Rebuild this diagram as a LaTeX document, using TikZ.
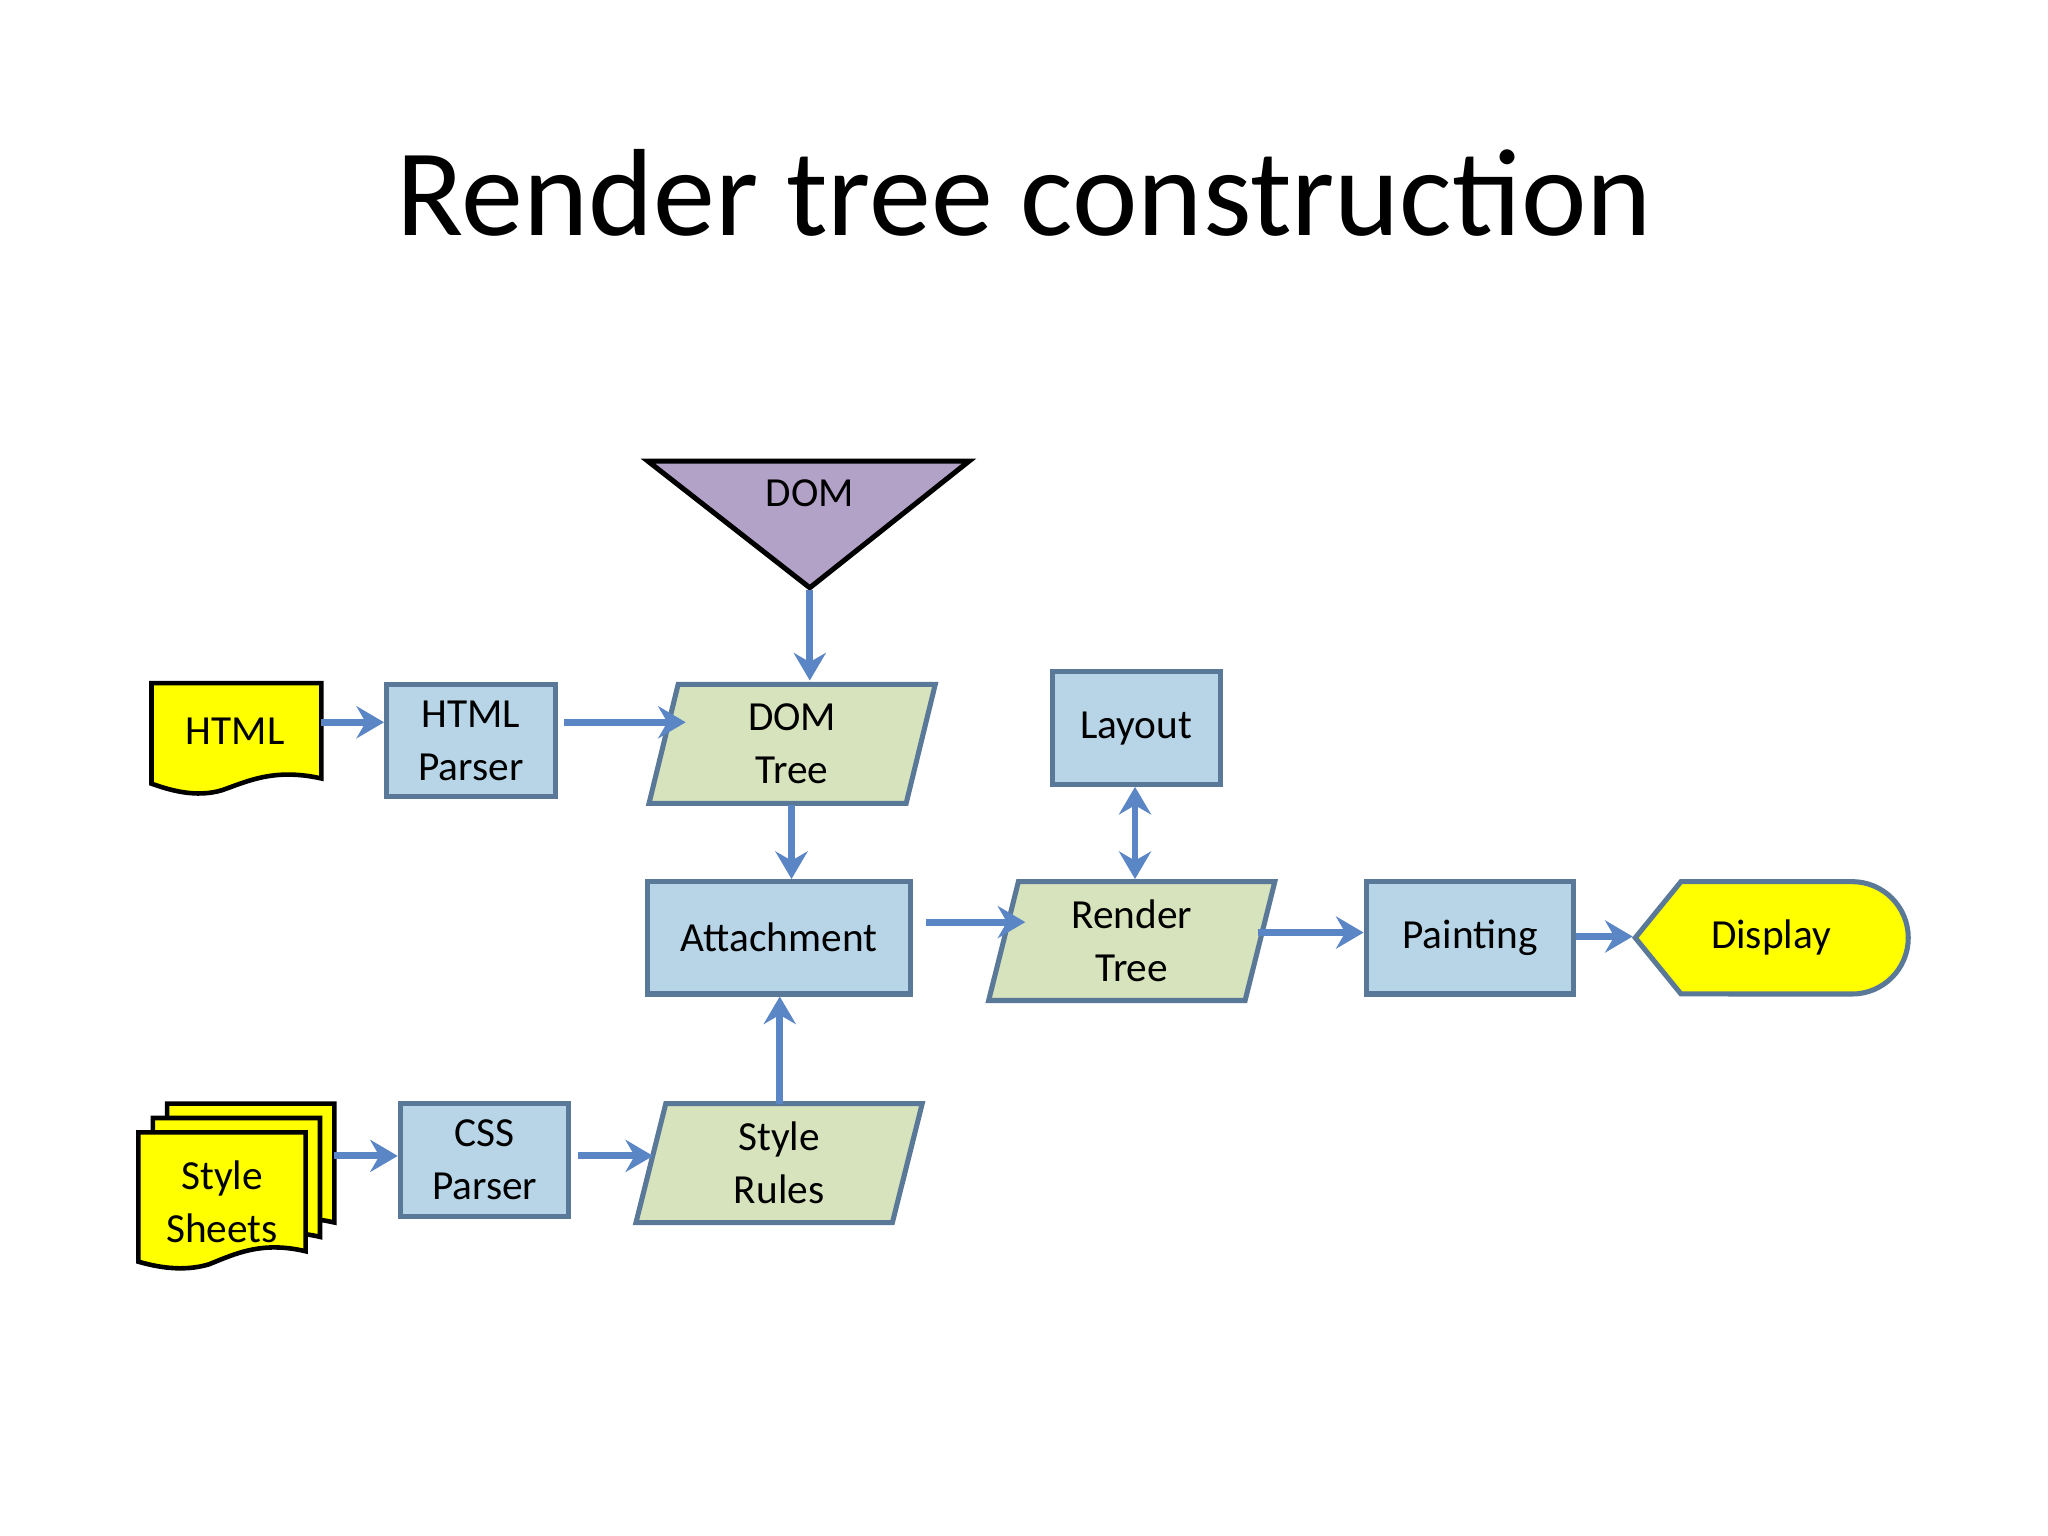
\documentclass[tikz,border=0pt]{standalone}
\usepackage{fontspec}
\setmainfont{Carlito}
\usetikzlibrary{shapes.geometric,arrows.meta}
\definecolor{boxblue}{HTML}{B7D5E7}
\definecolor{boxline}{HTML}{5A7898}
\definecolor{green}{HTML}{D6E3BC}
\definecolor{arr}{HTML}{5B86C5}
\definecolor{dompurple}{HTML}{B3A2C7}
\definecolor{yel}{HTML}{FFFF00}
\begin{document}
\begin{tikzpicture}[x=0.01cm,y=-0.01cm,
  box/.style={draw=boxline,line width=1.1pt,fill=boxblue,minimum width=1.29cm,minimum height=0.86cm,align=center,font=\fontsize{9pt}{11.5pt}\selectfont,inner sep=0pt},
  para/.style={trapezium,trapezium left angle=70,trapezium right angle=110,trapezium stretches body,draw=boxline,line width=1.1pt,fill=green,minimum width=2.19cm,minimum height=0.91cm,align=center,font=\fontsize{9pt}{11.5pt}\selectfont,inner sep=0pt},
  lbl/.style={align=center,font=\fontsize{9pt}{11.5pt}\selectfont,inner sep=0pt},
  doc/.style={draw=black,line width=1pt,fill=yel},
  a/.style={draw=arr,line width=1.5pt,-{Stealth[length=6pt,width=7pt,inset=2pt]}},
  ab/.style={draw=arr,line width=1.5pt,{Stealth[length=6pt,width=7pt,inset=2pt]}-{Stealth[length=6pt,width=7pt,inset=2pt]}}]
\useasboundingbox[fill=white] (0,0) rectangle (1568,1176);
\node[font=\fontsize{27pt}{32pt}\selectfont] (title) at (784,148) {Render tree construction};
% DOM triangle
\draw[line width=1.1pt,fill=dompurple] (496,353) -- (742,353) -- (620,450) -- cycle;
\node[lbl] (dom) at (620,378) {DOM};
\coordinate (domtip) at (620,452);
% HTML doc
\draw[doc] (116,523) -- (246,523) -- (246,596) .. controls (210,588) and (190,598) .. (170,605) .. controls (150,611) and (130,605) .. (116,600) -- cycle;
\node[lbl] (html) at (180,560) {HTML};
% Style sheets
\foreach \dx/\dy in {22/-22,11/-11,0/0}{
\draw[doc,shift={(\dx,\dy)}] (106,867) -- (234,867) -- (234,958) .. controls (200,950) and (180,960) .. (160,968) .. controls (140,974) and (120,970) .. (106,966) -- cycle;}
\node[lbl,align=center] (ss) at (170,920) {Style\\Sheets};
\coordinate (ssr) at (256,885);
% boxes
\node[box] (hp) at (360.5,567) {HTML\\Parser};
\node[para] (dt) at (606.5,569.5) {DOM\\Tree};
\node[box] (lay) at (870,557.5) {Layout};
\node[box,minimum width=2.01cm] (att) at (596.5,718) {Attachment};
\node[para] (rt) at (866.5,720.5) {Render\\Tree};
\node[box,minimum width=1.59cm] (pt) at (1125.5,718) {Painting};
\node[box] (css) at (371,888) {CSS\\Parser};
\node[para] (sr) at (596.5,890.5) {Style\\Rules};
% Display
\draw[line width=1.1pt,draw=boxline,fill=yel] (1252,718) -- (1287,675) -- (1418,675) arc[start angle=90,end angle=-90,radius=0.43cm] -- (1287,761) -- cycle;
\node[lbl] (disp) at (1356,718) {Display};
\coordinate (displ) at (1250,717);
% arrows
\draw[a] (246,553) -- (hp.west |- 0,553);
\draw[a] (hp.east |- 0,553) ++(5,0) -- (525,553);
\draw[a] (domtip) -- (620,521);
\draw[a] (606,616) -- (606,673);
\draw[a] (att.east |- 0,706) ++(10,0) -- (785,706);
\draw[ab] (lay.south -| 869,0) -- (869,673);
\draw[a] (963,714) -- (pt.west |- 0,714);
\draw[a] (pt.east |- 0,717) -- (displ);
\draw[a] (ssr) -- (css.west |- 0,885);
\draw[a] (css.east |- 0,885) ++(5,0) -- (500,885);
\draw[a] (597,845) -- (att.south -| 597,0);
\end{tikzpicture}
\end{document}
